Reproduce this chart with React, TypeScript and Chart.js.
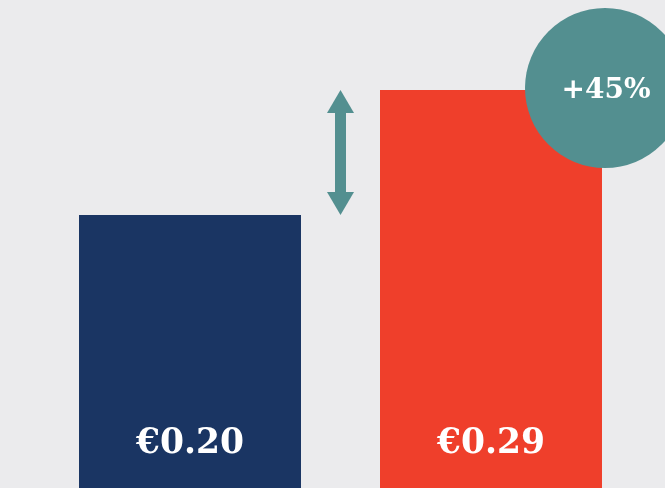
import React, { useEffect, useRef } from "react";
import { Chart, registerables } from "chart.js";

Chart.register(...registerables);

const categories = ["Before", "After"];
const prices = [0.2, 0.29];
const priceLabels = ["€0.20", "€0.29"];
const changeLabel = "+45%";
const barColors = ["#1a3563", "#ef3f2b"];
const accent = "#538f90";
const bg = "#ebebed";

const overlay = {
  id: "overlay",
  beforeDraw(chart: any) {
    const { ctx, width, height } = chart;
    ctx.save();
    ctx.fillStyle = bg;
    ctx.fillRect(0, 0, width, height);
    ctx.restore();
  },
  afterDatasetsDraw(chart: any) {
    const { ctx, chartArea } = chart;
    const meta = chart.getDatasetMeta(0);
    const b0 = meta.data[0];
    const b1 = meta.data[1];
    ctx.save();
    // value labels
    ctx.fillStyle = "#ffffff";
    ctx.font = "bold 34.5px 'DejaVu Serif'";
    ctx.textAlign = "center";
    ctx.textBaseline = "middle";
    meta.data.forEach((bar: any, i: number) => {
      ctx.fillText(priceLabels[i], bar.x, chartArea.bottom - 44);
    });
    // arrow between bars
    const ax = (b0.x + b0.width / 2 + b1.x - b1.width / 2) / 2;
    const yTop = b1.y;
    const yBot = b0.y;
    const head = 23;
    const headW = 13.5;
    const shaft = 5.5;
    ctx.fillStyle = accent;
    ctx.fillRect(ax - shaft, yTop + head - 1, shaft * 2, yBot - yTop - 2 * head + 2);
    ctx.beginPath();
    ctx.moveTo(ax, yTop);
    ctx.lineTo(ax + headW, yTop + head);
    ctx.lineTo(ax - headW, yTop + head);
    ctx.closePath();
    ctx.fill();
    ctx.beginPath();
    ctx.moveTo(ax, yBot);
    ctx.lineTo(ax + headW, yBot - head);
    ctx.lineTo(ax - headW, yBot - head);
    ctx.closePath();
    ctx.fill();
    // circle badge
    const cx = b1.x + b1.width / 2 + 3;
    const cy = b1.y - 2;
    ctx.beginPath();
    ctx.arc(cx, cy, 80, 0, Math.PI * 2);
    ctx.fill();
    ctx.fillStyle = "#ffffff";
    ctx.font = "bold 28px 'DejaVu Serif'";
    ctx.fillText(changeLabel, cx + 1, cy + 3);
    ctx.restore();
  },
};

export default function App() {
  const ref = useRef<HTMLCanvasElement>(null);
  useEffect(() => {
    const chart = new Chart(ref.current!, {
      type: "bar",
      data: {
        labels: categories,
        datasets: [
          {
            data: prices,
            backgroundColor: barColors,
            borderWidth: 0,
            barPercentage: 0.7375,
            categoryPercentage: 1,
          },
        ],
      },
      options: {
        animation: false,
        responsive: false,
        layout: { padding: { left: 39.5, right: 23.5, top: 0, bottom: 0 } },
        plugins: { legend: { display: false }, tooltip: { enabled: false } },
        scales: {
          x: { display: false },
          y: { display: false, min: 0.0035, max: 0.3548 },
        },
      },
      plugins: [overlay],
    });
    return () => chart.destroy();
  }, []);
  return (
    <div style={{ position: "fixed", left: 0, top: 0, width: 665, height: 488 }}>
      <canvas ref={ref} width={665} height={488} />
    </div>
  );
}
